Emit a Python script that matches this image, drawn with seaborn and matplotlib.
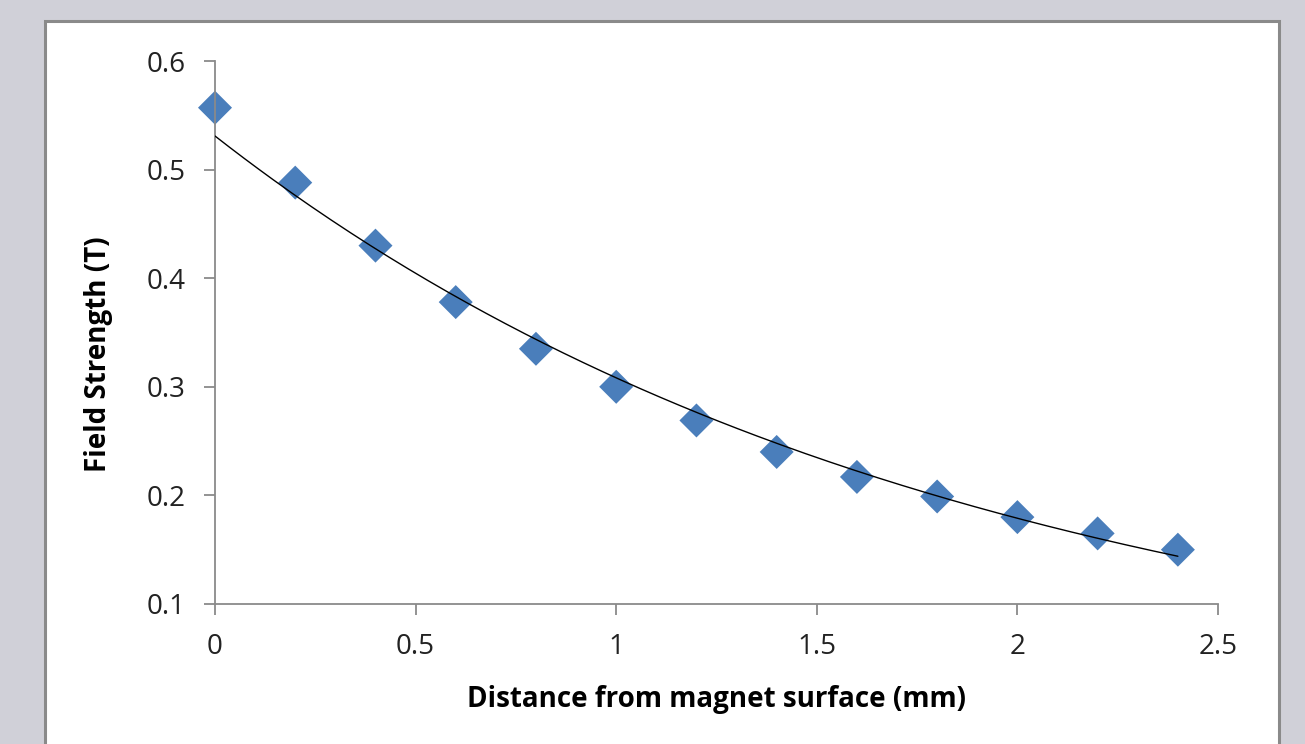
import numpy as np
import pandas as pd
import matplotlib
matplotlib.use("Agg")
import matplotlib.pyplot as plt
from matplotlib.patches import Rectangle
import seaborn as sns

# Data
distance_mm = [0.0, 0.2, 0.4, 0.6, 0.8, 1.0, 1.2, 1.4, 1.6, 1.8, 2.0, 2.2, 2.4]
field_T = [0.557, 0.488, 0.430, 0.378, 0.335, 0.300, 0.269, 0.240, 0.217, 0.199, 0.180, 0.165, 0.150]
x_ticks = [0, 0.5, 1, 1.5, 2, 2.5]
x_tick_labels = ["0", "0.5", "1", "1.5", "2", "2.5"]
y_ticks = [0.1, 0.2, 0.3, 0.4, 0.5, 0.6]
y_tick_labels = ["0.1", "0.2", "0.3", "0.4", "0.5", "0.6"]
x_label = "Distance from magnet surface (mm)"
y_label = "Field Strength (T)"

sns.set_theme(style="white")
plt.rcParams["font.family"] = ["Open Sans", "DejaVu Sans"]

df = pd.DataFrame({"d": distance_mm, "B": field_T})

# Exponential trendline (least squares on log values, as in Excel)
coef = np.polyfit(df["d"], np.log(df["B"]), 1)
xs = np.linspace(min(distance_mm), max(distance_mm), 200)
trend = pd.DataFrame({"d": xs, "B": np.exp(np.polyval(coef, xs))})

W, H = 1305, 744
fig = plt.figure(figsize=(W / 100, H / 100), dpi=100)
fig.patch.set_facecolor("#d0d0d8")

# white chart panel with grey border
panel = Rectangle((45 / W, -0.05), (1279 - 45) / W, (744 - 21) / H + 0.05,
                  transform=fig.transFigure, facecolor="white",
                  edgecolor="#8a8a8a", linewidth=2.2, zorder=-5)
fig.patches.append(panel)

ax = fig.add_axes([215 / W, (H - 604) / H, (1218 - 215) / W, (604 - 61) / H])
ax.set_zorder(5)
ax.set_facecolor("none")

sns.lineplot(data=trend, x="d", y="B", ax=ax, color="black", linewidth=1.0, zorder=3)
sns.scatterplot(data=df, x="d", y="B", ax=ax, marker="D", s=300, color="#4a7ebb",
                edgecolor="none", linewidth=0, zorder=2, clip_on=False)

ax.set_xlim(0, 2.5)
ax.set_ylim(0.1, 0.6)
ax.set_xticks(x_ticks)
ax.set_xticklabels(x_tick_labels)
ax.set_yticks(y_ticks)
ax.set_yticklabels(y_tick_labels)

for side in ["top", "right"]:
    ax.spines[side].set_visible(False)
for side in ["left", "bottom"]:
    ax.spines[side].set_color("#8a8a8a")
    ax.spines[side].set_linewidth(1.3)

ax.tick_params(axis="both", which="major", direction="out", length=8, width=1.3,
               color="#8a8a8a", labelsize=20, labelcolor="#222222")
ax.tick_params(axis="y", pad=13, left=True)
ax.tick_params(axis="x", pad=13, bottom=True)

ax.set_xlabel(x_label, fontsize=20, fontweight="bold", color="black", labelpad=17)
ax.set_ylabel(y_label, fontsize=20, fontweight="bold", color="black", labelpad=24)
ax.yaxis.label.set_y(0.46)

fig.savefig("out.png", dpi=100, facecolor=fig.get_facecolor())
